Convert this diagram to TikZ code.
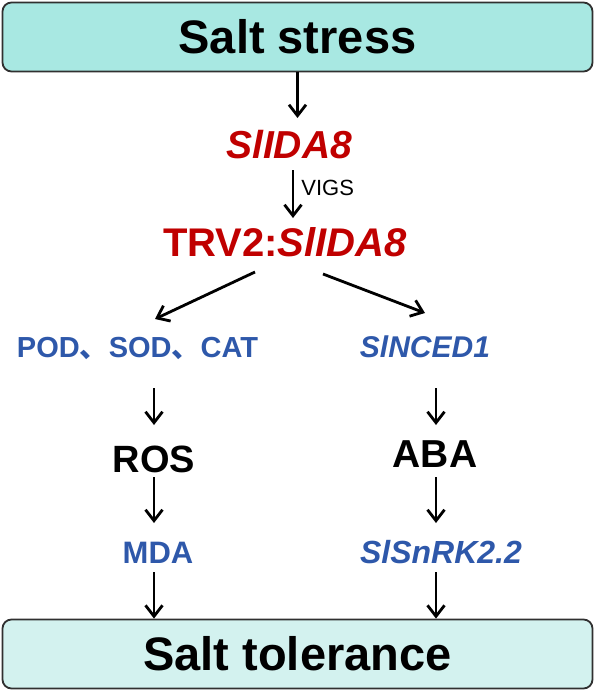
\documentclass[tikz,border=0pt]{standalone}
\usepackage{fontspec}
\setmainfont{Liberation Sans}
\newfontfamily\cjk{Noto Sans CJK SC}
\usetikzlibrary{arrows.meta,calc}
\definecolor{topfill}{HTML}{A8E8E2}
\definecolor{botfill}{HTML}{D3F2EF}
\definecolor{genered}{HTML}{C00000}
\definecolor{geneblue}{HTML}{2E58AA}
\definecolor{boxline}{HTML}{303030}
\begin{document}
\begin{tikzpicture}[x=1pt,y=-1pt,
  bigbox/.style={draw=boxline, line width=1.8pt, rounded corners=9pt, minimum width=590pt, minimum height=69pt, inner sep=0pt, font=\fontsize{47}{50}\selectfont\bfseries},
  txt/.style={inner sep=0pt, anchor=base},
  arr/.style={line width=2.8pt, -{Straight Barb[length=11pt,width=17pt]}},
]
\useasboundingbox (0,0) rectangle (596,691);
\node[bigbox, fill=topfill] (top) at (297.5,37) {Salt stress};
\node[bigbox, fill=botfill] (bot) at (297.5,654) {Salt tolerance};
\node[txt, text=genered, font=\fontsize{39}{42}\selectfont\bfseries\itshape] (slida8) at (289,158) {SlIDA8};
\node[txt, text=genered, font=\fontsize{40}{44}\selectfont\bfseries] (trv) at (285,256) {TRV2:\textit{SlIDA8}};
\node[txt, text=geneblue, font=\fontsize{29}{32}\selectfont\bfseries] (pod) at (137.5,357) {POD{\cjk 、}SOD{\cjk 、}CAT};
\node[txt, text=geneblue, font=\fontsize{30}{33}\selectfont\bfseries\itshape] (nced) at (425,357) {SlNCED1};
\node[txt, font=\fontsize{38}{41}\selectfont\bfseries] (ros) at (154,472) {ROS};
\node[txt, font=\fontsize{39}{42}\selectfont\bfseries] (aba) at (435,467) {ABA};
\node[txt, text=geneblue, font=\fontsize{31}{34}\selectfont\bfseries] (mda) at (158,563) {MDA};
\node[txt, text=geneblue, font=\fontsize{32}{35}\selectfont\bfseries\itshape] (snrk) at (441,563) {SlSnRK2.2};

\draw[arr] (top.south) -- ($(top.south |- slida8.base)+(0,-40)$);
\draw[arr] ($(slida8.base)+(4,12)$) -- node[pos=0.37, right=7pt, inner sep=0pt, font=\fontsize{22}{24}\selectfont] (vigs) {VIGS} ($(slida8.base |- trv.base)+(4,-38)$);
\draw[arr] ($(trv.base)+(-30,16)$) -- ($(pod.base)+(17.5,-38)$);
\draw[arr] ($(trv.base)+(38,18)$) -- ($(nced.base)+(0,-44)$);
\draw[arr] ($(ros.base |- pod.base)+(0,31)$) -- ($(ros.base)+(0,-47)$);
\draw[arr] ($(ros.base)+(0,5)$) -- ($(ros.base |- mda.base)+(0,-40)$);
\draw[arr] ($(ros.base |- mda.base)+(0,9)$) -- (ros.base |- bot.north);
\draw[arr] ($(aba.base |- nced.base)+(1,31)$) -- ($(aba.base)+(1,-42)$);
\draw[arr] ($(aba.base)+(1,10)$) -- ($(aba.base |- snrk.base)+(1,-40)$);
\draw[arr] ($(aba.base |- snrk.base)+(1,9)$) -- ($(aba.base |- bot.north)+(1,0)$);
\end{tikzpicture}
\end{document}
